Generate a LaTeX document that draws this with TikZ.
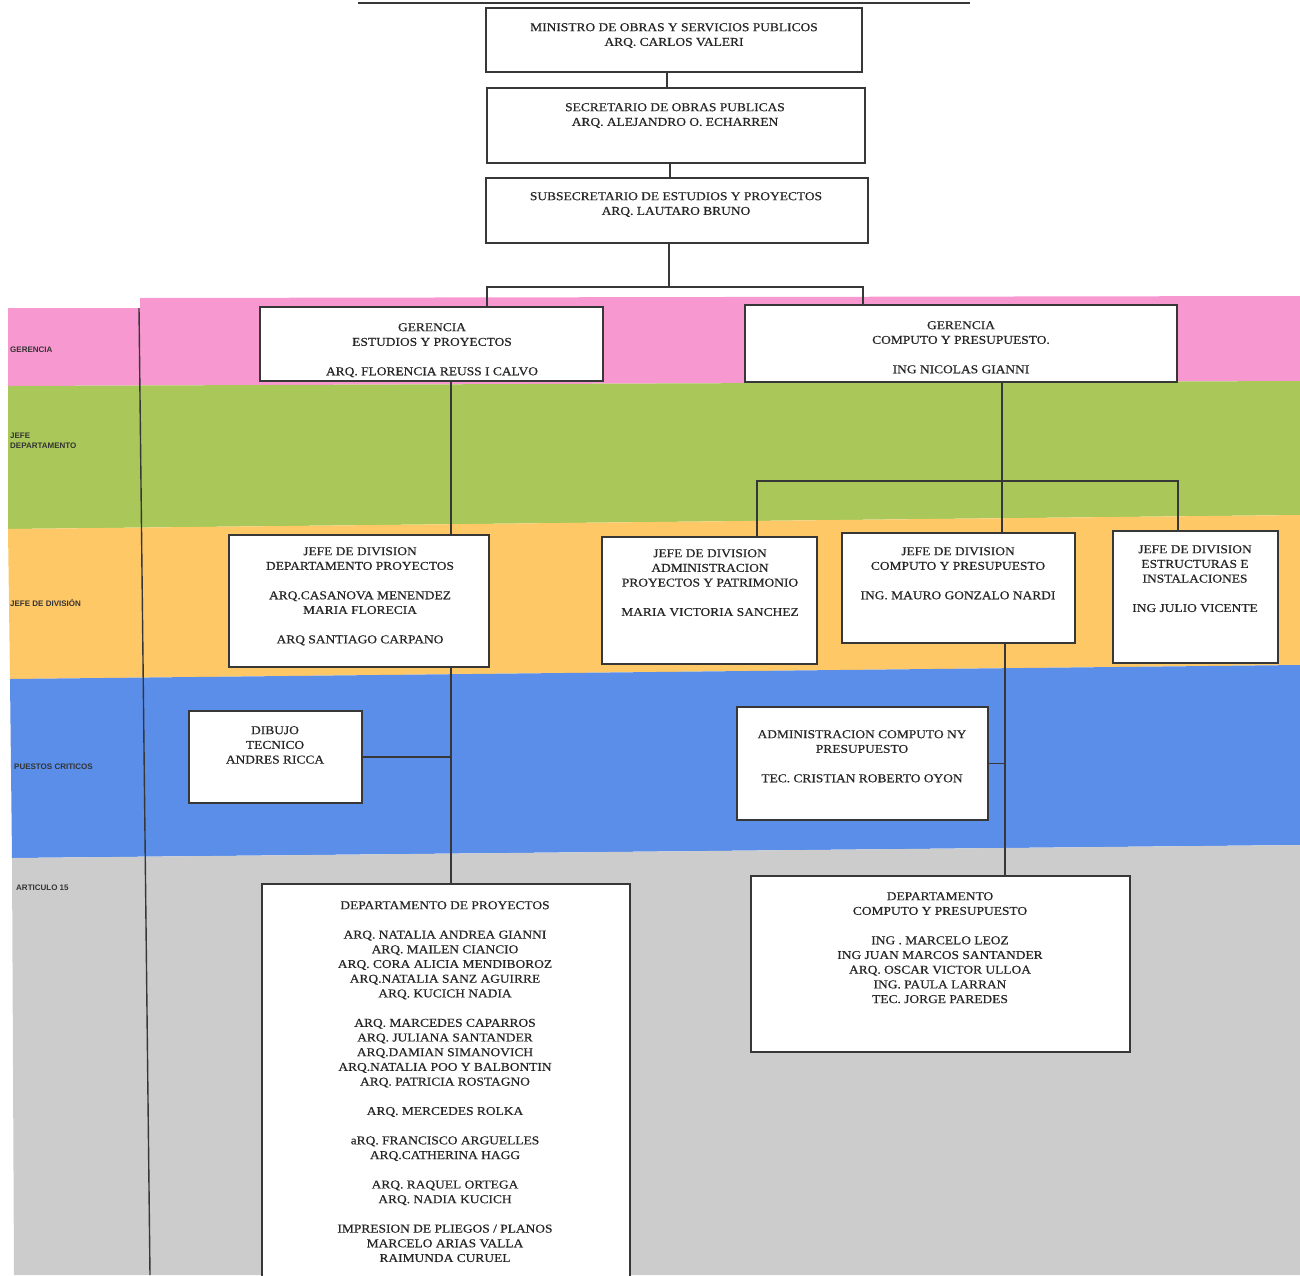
\documentclass[tikz,border=0pt]{standalone}
\usepackage{fontspec}
\setmainfont{Liberation Serif}
\newfontfamily\boxfont[FakeStretch=1.12, FakeBold=0.5]{Liberation Serif}
\newfontfamily\lblfont{Liberation Sans}
\usetikzlibrary{fit}
\definecolor{pinkb}{RGB}{248,152,208}
\definecolor{greenb}{RGB}{170,200,90}
\definecolor{orangeb}{RGB}{255,200,102}
\definecolor{blueb}{RGB}{90,142,232}
\definecolor{grayb}{RGB}{204,204,204}
\definecolor{ln}{RGB}{55,55,55}
\begin{document}
\begin{tikzpicture}[x=1pt,y=-1pt,
  box/.style={draw=ln, line width=1.6pt, fill=white, inner sep=0pt},
  txt/.style={font=\boxfont\fontsize{12}{14.7}\selectfont, align=center, anchor=north, inner sep=0pt, text=black!85},
  conn/.style={draw=ln, line width=1.4pt},
  lbl/.style={font=\lblfont\bfseries\fontsize{8}{10}\selectfont, anchor=west, align=left, inner sep=0pt, text=black!80}]
\useasboundingbox (0,0) rectangle (1300,1275);
\clip (0,0) rectangle (1300,1275);
% bands
\fill[pinkb] (8,308) -- (140,308) -- (140,298) -- (1300,296) -- (1300,381) -- (8,386) -- cycle;
\fill[greenb] (8,386) -- (1300,381) -- (1300,515) -- (8,529) -- cycle;
\fill[orangeb] (8,529) -- (1300,515) -- (1300,665) -- (10,679) -- cycle;
\fill[blueb] (10,679) -- (1300,665) -- (1300,845) -- (12,858) -- cycle;
\fill[grayb] (12,858) -- (1300,845) -- (1300,1275) -- (14,1275) -- cycle;
\draw[ln, line width=1.4pt] (139,308) -- (150,1275);
% title underline
\draw[ln, line width=1.2pt] (358,3) -- (970,3);
% side labels
\node[lbl] (l1) at (10,350) {GERENCIA};
\node[lbl] (l2) at (10,441) {JEFE\\DEPARTAMENTO};
\node[lbl] (l3) at (10,603) {JEFE DE DIVISIÓN};
\node[lbl] (l4) at (14,767) {PUESTOS CRITICOS};
\node[lbl] (l5) at (16,888) {ARTICULO 15};
% boxes
\node[box, fit={(486,8) (862,72)}] (b1) {};
\node[box, fit={(487,88) (865,163)}] (b2) {};
\node[box, fit={(486,178) (868,243)}] (b3) {};
\node[box, fit={(260,307) (603,381)}] (b4) {};
\node[box, fit={(745,305) (1177,382)}] (b5) {};
\node[box, fit={(229,535) (489,667)}] (b6) {};
\node[box, fit={(602,537) (817,664)}] (b7) {};
\node[box, fit={(842,533) (1075,643)}] (b8) {};
\node[box, fit={(1113,531) (1278,663)}] (b9) {};
\node[box, fit={(189,711) (362,803)}] (b10) {};
\node[box, fit={(737,707) (988,820)}] (b11) {};
\node[box, fit={(262,884) (630,1300)}] (b12) {};
\node[box, fit={(751,876) (1130,1052)}] (b13) {};
% texts
\node[txt] (t1) at (674,23) {MINISTRO DE OBRAS Y SERVICIOS PUBLICOS\\ARQ. CARLOS VALERI};
\node[txt] (t2) at (675,103) {SECRETARIO DE OBRAS PUBLICAS\\ARQ. ALEJANDRO O. ECHARREN};
\node[txt] (t3) at (676,192) {SUBSECRETARIO DE ESTUDIOS Y PROYECTOS\\ARQ. LAUTARO BRUNO};
\node[txt] (t4) at (432,323) {GERENCIA\\ESTUDIOS Y PROYECTOS\\[14.7pt]ARQ. FLORENCIA REUSS I CALVO};
\node[txt] (t5) at (961,321) {GERENCIA\\COMPUTO Y PRESUPUESTO.\\[14.7pt]ING NICOLAS GIANNI};
\node[txt] (t6) at (360,547) {JEFE DE DIVISION\\DEPARTAMENTO PROYECTOS\\[14.7pt]ARQ.CASANOVA MENENDEZ\\MARIA FLORECIA\\[14.7pt]ARQ SANTIAGO CARPANO};
\node[txt] (t7) at (710,549) {JEFE DE DIVISION\\ADMINISTRACION\\PROYECTOS Y PATRIMONIO\\[14.7pt]MARIA VICTORIA SANCHEZ};
\node[txt] (t8) at (958,547) {JEFE DE DIVISION\\COMPUTO Y PRESUPUESTO\\[14.7pt]ING. MAURO GONZALO NARDI};
\node[txt] (t9) at (1195,545) {JEFE DE DIVISION\\ESTRUCTURAS E\\INSTALACIONES\\[14.7pt]ING JULIO VICENTE};
\node[txt] (t10) at (275,726) {DIBUJO\\TECNICO\\ANDRES RICCA};
\node[txt] (t11) at (862,730) {ADMINISTRACION COMPUTO NY\\PRESUPUESTO\\[14.7pt]TEC. CRISTIAN ROBERTO OYON};
\node[txt] (t12) at (445,901) {DEPARTAMENTO DE PROYECTOS\\[14.7pt]ARQ. NATALIA ANDREA GIANNI\\ARQ. MAILEN CIANCIO\\ARQ. CORA ALICIA MENDIBOROZ\\ARQ.NATALIA SANZ AGUIRRE\\ARQ. KUCICH NADIA\\[14.7pt]ARQ. MARCEDES CAPARROS\\ARQ. JULIANA SANTANDER\\ARQ.DAMIAN SIMANOVICH\\ARQ.NATALIA POO Y BALBONTIN\\ARQ. PATRICIA ROSTAGNO\\[14.7pt]ARQ. MERCEDES ROLKA\\[14.7pt]aRQ. FRANCISCO ARGUELLES\\ARQ.CATHERINA HAGG\\[14.7pt]ARQ. RAQUEL ORTEGA\\ARQ. NADIA KUCICH\\[14.7pt]IMPRESION DE PLIEGOS / PLANOS\\MARCELO ARIAS VALLA\\RAIMUNDA CURUEL};
\node[txt] (t13) at (940,892) {DEPARTAMENTO\\COMPUTO Y PRESUPUESTO\\[14.7pt]ING . MARCELO LEOZ\\ING JUAN MARCOS SANTANDER\\ARQ. OSCAR VICTOR ULLOA\\ING. PAULA LARRAN\\TEC. JORGE PAREDES};
% junction coordinates
\coordinate (c1) at (667,0);
\coordinate (c2) at (670,0);
\coordinate (c3) at (669,287);
\coordinate (g1) at (487,287);
\coordinate (g2) at (863,287);
\coordinate (j1) at (451,0);
\coordinate (k1) at (1002,481);
\coordinate (k2) at (757,481);
\coordinate (k3) at (1178,481);
\coordinate (j3) at (1005,0);
% connectors
\draw[conn] (b1.south -| c1) -- (b2.north -| c1);
\draw[conn] (b2.south -| c2) -- (b3.north -| c2);
\draw[conn] (b3.south -| c3) -- (c3);
\draw[conn] (b4.north -| g1) -- (g1) -- (g2) -- (b5.north -| g2);
\draw[conn] (b4.south -| j1) -- (b6.north -| j1);
\draw[conn] (b6.south -| j1) -- (b12.north -| j1);
\draw[conn] (b10.east) -- (b10.east -| j1);
\draw[conn] (b5.south -| k1) -- (k1);
\draw[conn] (b7.north -| k2) -- (k2) -- (k3) -- (b9.north -| k3);
\draw[conn] (k1) -- (b8.north -| k1);
\draw[conn] (b8.south -| j3) -- (b13.north -| j3);
\draw[conn] (b11.east) -- (b11.east -| j3);
\end{tikzpicture}
\end{document}
